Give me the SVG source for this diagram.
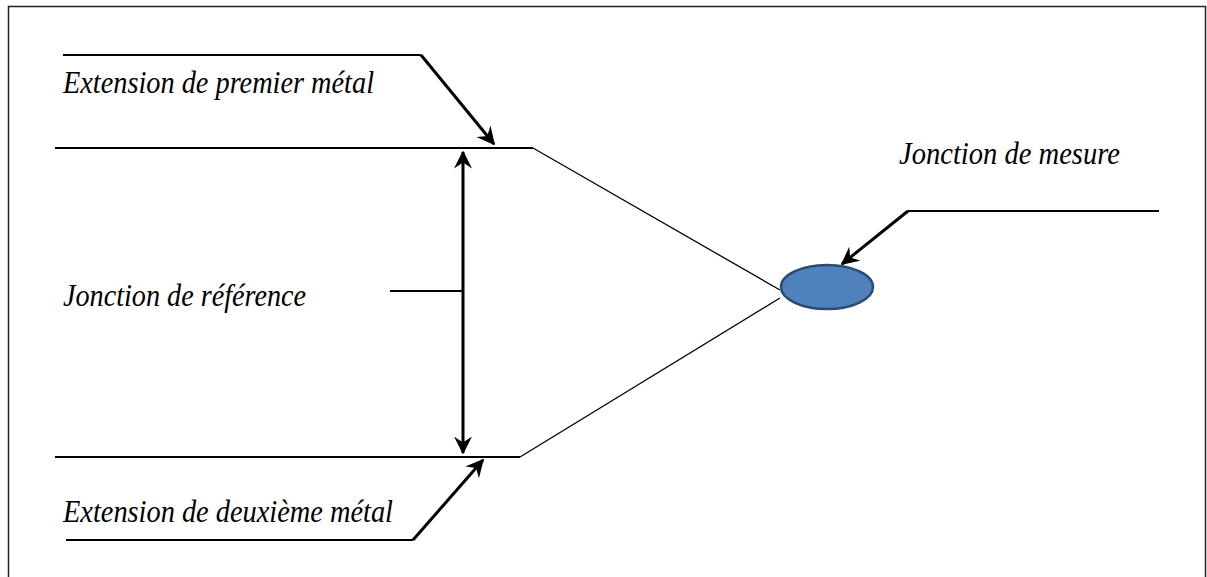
<svg xmlns="http://www.w3.org/2000/svg" width="1207" height="577" viewBox="0 0 1207 577">
<style>
.t{font-family:"Liberation Serif","Times New Roman",serif;font-style:italic;font-size:31px;fill:#000}
.lead{stroke:#000;stroke-width:3;fill:none}
.mid{stroke:#000;stroke-width:2;fill:none}
.thin{stroke:#000;stroke-width:1.3;fill:none}
</style>
<defs>
<marker id="ah" viewBox="0 0 12 12" refX="11" refY="6" markerWidth="6" markerHeight="6" orient="auto-start-reverse" markerUnits="strokeWidth">
<path d="M0,0 L12,6 L0,12 L4,6 Z" fill="#000"/>
</marker>
</defs>
<rect x="8.5" y="6.5" width="1197" height="600" fill="#fff" stroke="#222" stroke-width="1.5"/>
<g id="connectors">
<path class="mid" d="M63,55 H421"/>
<path class="lead" d="M421,55 L494,144" marker-end="url(#ah)"/>
<path class="mid" d="M55,148 H533"/>
<path class="thin" d="M533,148 L780,290"/>
<path class="mid" d="M55,457 H520"/>
<path class="thin" d="M520,457 L780,298"/>
<path class="lead" d="M463,152 V453" stroke-width="3.5" marker-start="url(#ah)" marker-end="url(#ah)"/>
<path class="mid" d="M390,291 H463"/>
<path class="mid" d="M1159,211 H908"/>
<path class="lead" d="M908,211 L842,264" marker-end="url(#ah)"/>
<path class="mid" d="M66,540 H413"/>
<path class="lead" d="M413,540 L483,460" stroke-width="2.4" marker-end="url(#ah)"/>
</g>
<g id="node-junction">
<ellipse cx="827" cy="287" rx="46" ry="22" fill="#4f81bd" stroke="#2c4a72" stroke-width="2.5"/>
</g>
<g id="label-premier"><text class="t" x="63" y="93" textLength="311" lengthAdjust="spacingAndGlyphs">Extension de premier métal</text></g>
<g id="label-reference"><text class="t" x="63" y="306" textLength="243" lengthAdjust="spacingAndGlyphs">Jonction de référence</text></g>
<g id="label-mesure"><text class="t" x="899" y="164" textLength="221" lengthAdjust="spacingAndGlyphs">Jonction de mesure</text></g>
<g id="label-deuxieme"><text class="t" x="63" y="522" textLength="330" lengthAdjust="spacingAndGlyphs">Extension de deuxième métal</text></g>
</svg>
